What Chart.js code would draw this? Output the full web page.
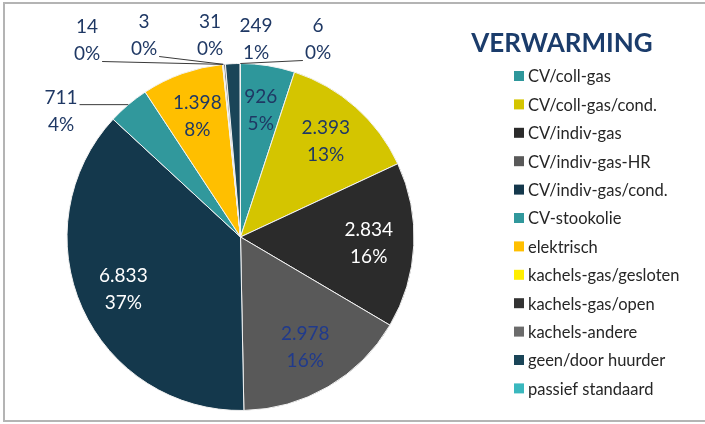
<!DOCTYPE html>
<html>
<head>
<meta charset="utf-8">
<script src="https://cdn.jsdelivr.net/npm/chart.js@4.4.1/dist/chart.umd.min.js"></script>
<style>
  html, body { margin: 0; padding: 0; background: #fff; }
  #wrap { position: relative; width: 705px; height: 424px; overflow: hidden; }
  #frame { position: absolute; left: 3px; top: 2px; width: 720px; height: 416px; border: 2px solid #b4b4b4; }
  #chart { position: absolute; left: 0; top: 0; }
</style>
</head>
<body>
<div id="wrap">
  <div id="frame"></div>
  <canvas id="chart" width="705" height="424"></canvas>
</div>
<script>
// data
const categories = [
  'CV/coll-gas', 'CV/coll-gas/cond.', 'CV/indiv-gas', 'CV/indiv-gas-HR',
  'CV/indiv-gas/cond.', 'CV-stookolie', 'elektrisch', 'kachels-gas/gesloten',
  'kachels-gas/open', 'kachels-andere', 'geen/door huurder', 'passief standaard'
];
const values = [926, 2393, 2834, 2978, 6833, 711, 1398, 14, 3, 31, 249, 6];
const percentLabels = [5, 13, 16, 16, 37, 4, 8, 0, 0, 0, 1, 0];
const chartTitle = 'VERWARMING';

const colors = [
  '#2E979B', '#D4C500', '#2B2B2B', '#595959', '#14384C', '#31989C',
  '#FFBF00', '#FFEE00', '#333333', '#6B6B6B', '#1A4558', '#3AB8BE'
];
const labelColors = [
  '#1F3864', '#1F3864', '#FFFFFF', '#203A8C', '#FFFFFF', '#1F3864',
  '#1F3864', '#1F3864', '#1F3864', '#1F3864', '#1F3864', '#1F3864'
];

// labels Excel moved outside the pie (centre of the two-line block)
const outsideLabels = {
  5: { x: 61, y: 111.5 },
  7: { x: 87, y: 40.5 },
  8: { x: 144, y: 35.5 },
  9: { x: 210, y: 35.5 },
  10: { x: 256, y: 39.5 },
  11: { x: 318, y: 39.5 }
};

function fmt(v) {
  return String(v).replace(/\B(?=(\d{3})+(?!\d))/g, '.');
}

const sliceLabels = {
  id: 'sliceLabels',
  afterDatasetsDraw(chart) {
    const ctx = chart.ctx;
    const meta = chart.getDatasetMeta(0);
    ctx.save();
    ctx.font = '19px Lato';
    ctx.textAlign = 'center';
    ctx.textBaseline = 'middle';
    meta.data.forEach((arc, i) => {
      const mid = (arc.startAngle + arc.endAngle) / 2;
      const r = arc.outerRadius;
      const t1 = fmt(values[i]);
      const t2 = percentLabels[i] + '%';
      let x, y;
      const out = outsideLabels[i];
      if (out) {
        x = out.x; y = out.y;
        const ax = arc.x + Math.cos(mid) * r;
        const ay = arc.y + Math.sin(mid) * r;
        const hw = Math.max(ctx.measureText(t1).width, ctx.measureText(t2).width) / 2 + 2;
        const bx = Math.min(Math.max(ax, x - hw), x + hw);
        const by = Math.min(Math.max(ay, y - 21), y + 21);
        if (Math.hypot(ax - bx, ay - by) > 10) {
          ctx.strokeStyle = '#3a3a3a';
          ctx.lineWidth = 1;
          ctx.beginPath();
          ctx.moveTo(bx, by);
          ctx.lineTo(ax, ay);
          ctx.stroke();
        }
      } else {
        x = arc.x + Math.cos(mid) * r * 0.74;
        y = arc.y + Math.sin(mid) * r * 0.74;
      }
      ctx.fillStyle = labelColors[i];
      ctx.fillText(t1, x, y - 13.5);
      ctx.fillText(t2, x, y + 13.5);
    });
    ctx.restore();
  },
  afterDraw(chart) {
    // title + legend on the right
    const ctx = chart.ctx;
    ctx.save();
    ctx.font = 'bold 26px Lato';
    ctx.fillStyle = '#1B3C6B';
    ctx.textAlign = 'center';
    ctx.textBaseline = 'middle';
    ctx.fillText(chartTitle, 562, 44);
    ctx.font = '16.5px Lato';
    ctx.textAlign = 'left';
    categories.forEach((c, i) => {
      const y = 76 + i * 28.4;
      ctx.fillStyle = colors[i];
      ctx.fillRect(514, y - 5, 10, 10);
      ctx.fillStyle = '#262626';
      ctx.fillText(c, 528, y + 1);
    });
    ctx.restore();
  }
};

new Chart(document.getElementById('chart'), {
  type: 'pie',
  data: {
    labels: categories,
    datasets: [{
      data: values,
      backgroundColor: colors,
      borderColor: '#f2f2f2',
      borderWidth: 1
    }]
  },
  options: {
    responsive: false,
    animation: false,
    layout: { padding: { top: 63, bottom: 13, left: 66, right: 290 } },
    plugins: {
      legend: { display: false },
      tooltip: { enabled: false }
    }
  },
  plugins: [sliceLabels]
});
</script>
</body>
</html>
